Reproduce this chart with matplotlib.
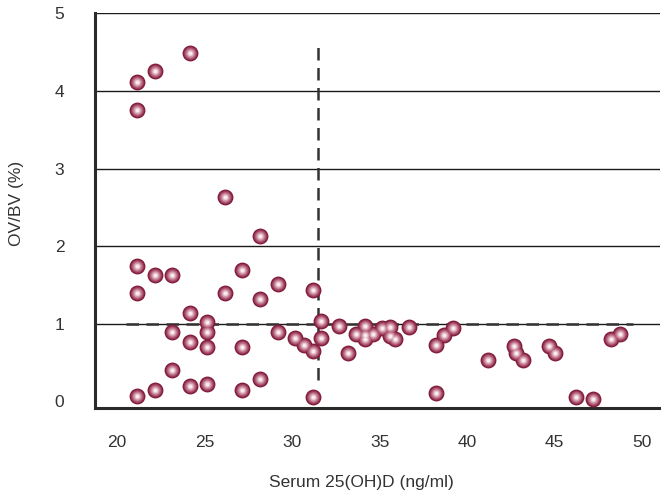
import matplotlib
matplotlib.use("Agg")
import matplotlib.pyplot as plt
import numpy as np

plt.rcParams['font.family'] = ['Liberation Sans Narrow', 'Liberation Sans', 'DejaVu Sans']

# serum 25(OH)D (ng/ml)
vitd = [21.16, 22.17, 24.17, 21.16, 26.17, 28.17, 21.16, 22.17, 23.16, 27.16,
        21.16, 26.17, 28.17, 29.18, 31.18, 24.17, 25.16, 23.16, 25.16, 24.17,
        25.16, 27.16, 29.18, 30.17, 30.69, 31.18, 31.67, 31.67, 32.69, 33.18,
        33.64, 34.17, 34.17, 34.17, 34.65, 35.16, 35.6, 35.6, 35.89, 36.7,
        38.21, 38.7, 39.22, 41.22, 42.7, 42.78, 43.22, 44.7, 45.01, 48.21,
        48.74, 23.16, 24.17, 25.16, 27.16, 28.17, 21.16, 22.17, 31.18, 38.21,
        46.21, 47.22]
# OV/BV (%)
ovbv = [4.12, 4.25, 4.49, 3.76, 2.63, 2.13, 1.74, 1.63, 1.63, 1.69,
        1.39, 1.39, 1.32, 1.51, 1.43, 1.14, 1.02, 0.89, 0.89, 0.77,
        0.70, 0.70, 0.89, 0.82, 0.72, 0.65, 1.03, 0.82, 0.97, 0.62,
        0.87, 0.97, 0.86, 0.80, 0.87, 0.94, 0.96, 0.84, 0.80, 0.96,
        0.72, 0.85, 0.94, 0.53, 0.71, 0.62, 0.53, 0.71, 0.62, 0.81,
        0.87, 0.41, 0.20, 0.23, 0.15, 0.29, 0.07, 0.15, 0.05, 0.11,
        0.06, 0.03]

xticks = [20, 25, 30, 35, 40, 45, 50]
yticks = [0, 1, 2, 3, 4, 5]
cutoff_x = 31.5
cutoff_y = 1.0

fig = plt.figure(figsize=(6.61, 4.92), dpi=100)
ax = fig.add_axes([0.1437, 0.170, 0.855, 0.803])

ax.set_xlim(18.74, 51.03)
ax.set_ylim(-0.09, 5.0)

for y in yticks[1:]:
    ax.axhline(y, color='#1a1a1a', lw=1.0, zorder=1)

ax.plot([20.5, 49.5], [cutoff_y, cutoff_y], color='#333333', lw=1.8,
        dashes=(5, 3), zorder=2)
ax.plot([cutoff_x, cutoff_x], [0.28, 4.59], color='#333333', lw=1.8,
        dashes=(5, 3), zorder=2)

# shaded "sphere" markers built from layered circles
shades = ['#7a1433', '#8e2a4a', '#a44a66', '#bb6d85', '#d196a9', '#e8c3cf', '#f8eef1']
sizes = [130, 104, 78, 54, 33, 17, 6]
for i, (c, s) in enumerate(zip(shades, sizes)):
    ax.scatter(vitd, ovbv, s=s, color=c, linewidths=0, zorder=3 + i)

for side in ['top', 'right']:
    ax.spines[side].set_visible(False)
for side in ['left', 'bottom']:
    ax.spines[side].set_color('#2a2a2a')
    ax.spines[side].set_linewidth(2.2)

ax.set_xticks(xticks)
ax.set_yticks(yticks)
ax.tick_params(length=0, labelsize=12.5, labelcolor='#333333')
ax.tick_params(axis='x', pad=19)
ax.tick_params(axis='y', pad=22)

fig.text(361 / 661, 1 - 482 / 492, 'Serum 25(OH)D (ng/ml)', fontsize=12.5,
         color='#333333', ha='center', va='center')
fig.text(17 / 661, 1 - 203 / 492, 'OV/BV (%)', fontsize=12.5, rotation=90,
         color='#333333', ha='center', va='center')

fig.savefig('out.png', dpi=100)
